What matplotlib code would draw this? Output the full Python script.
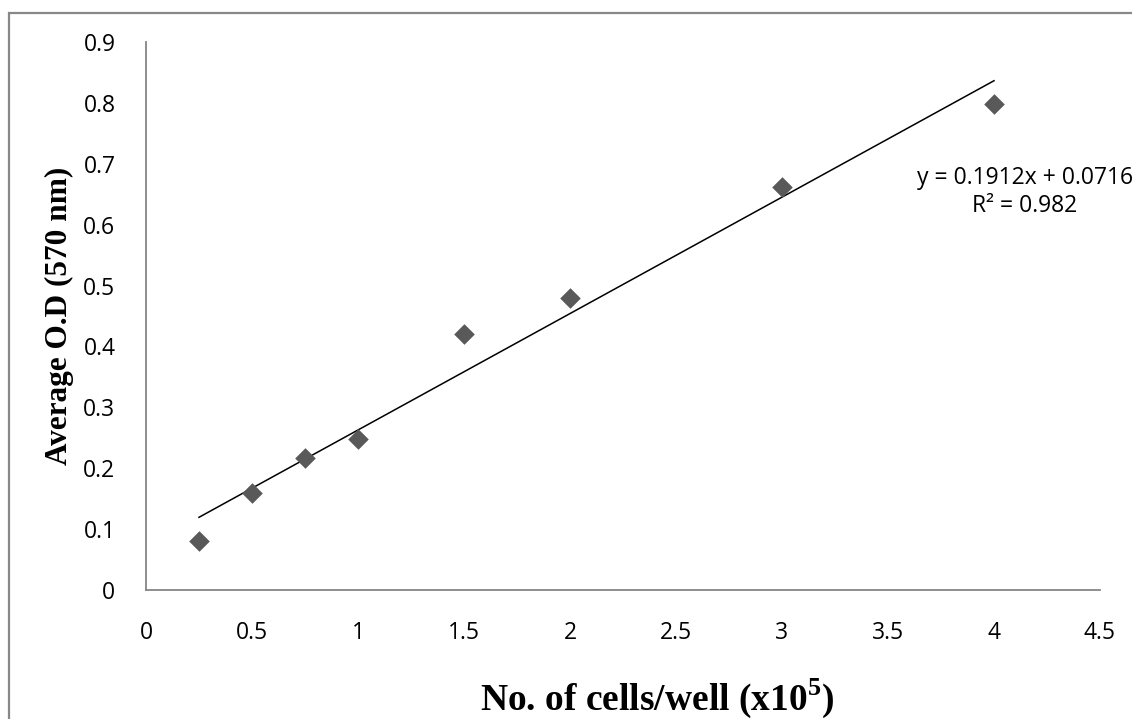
import numpy as np
import matplotlib
matplotlib.use("Agg")
import matplotlib.pyplot as plt
from matplotlib.patches import Rectangle

# Data
celulas = [0.25, 0.5, 0.75, 1, 1.5, 2, 3, 4]
od_media = [0.08, 0.159, 0.217, 0.248, 0.42, 0.479, 0.662, 0.798]
inclinacao = 0.1912
intercepto = 0.0716
r2 = 0.982
xticks = [0, 0.5, 1, 1.5, 2, 2.5, 3, 3.5, 4, 4.5]
yticks = [0, 0.1, 0.2, 0.3, 0.4, 0.5, 0.6, 0.7, 0.8, 0.9]

plt.rcParams["mathtext.fontset"] = "custom"
plt.rcParams["mathtext.bf"] = "Liberation Serif:bold"
plt.rcParams["mathtext.rm"] = "Liberation Serif:bold"

fig = plt.figure(figsize=(11.32, 7.19), dpi=100)
ax = fig.add_axes([146 / 1132, 129 / 719, 954 / 1132, 548 / 719])

# Outer chart border (gray, cut at right/bottom as in the reference)
fig.patches.append(Rectangle((8.5 / 1132, -0.2), 1.3, (719 - 12.5) / 719 + 0.2,
                             transform=fig.transFigure, fill=False,
                             edgecolor="#888888", linewidth=1.6))

ax.scatter(celulas, od_media, marker="D", s=110, color="#595959",
           linewidths=0, zorder=3)

# Linear trendline
x_lin = np.array([min(celulas), max(celulas)])
ax.plot(x_lin, inclinacao * x_lin + intercepto, color="black", lw=1.1, zorder=2)

# equation label (display coords, origin bottom-left)
ax.text(1025, 719 - 192, "y = %.4fx + %.4f\nR² = %.3f" % (inclinacao, intercepto, r2),
        transform=None, ha="center", va="center", fontsize=16.5,
        family="Open Sans", linespacing=1.2, clip_on=False)

ax.set_xlim(0, 4.5)
ax.set_ylim(0, 0.9)
ax.set_xticks(xticks)
ax.set_yticks(yticks)
ax.set_xticklabels([("%g" % t) for t in xticks], family="Open Sans", fontsize=16.5)
ax.set_yticklabels([("%g" % t) for t in yticks], family="Open Sans", fontsize=16.5)
ax.tick_params(length=0, pad=22)

for lado in ["top", "right"]:
    ax.spines[lado].set_visible(False)
for lado in ["left", "bottom"]:
    ax.spines[lado].set_color("#868686")
    ax.spines[lado].set_linewidth(1.3)

ax.set_xlabel(r"No. of cells/well (x10$^{\mathbf{5}}$)", family="Liberation Serif",
              fontweight="bold", fontsize=27)
ax.xaxis.set_label_coords((657 - 146) / 954, -87 / 548)
ax.set_ylabel("Average O.D (570 nm)", family="Liberation Serif",
              fontweight="bold", fontsize=22.5)
ax.yaxis.set_label_coords(-72 / 954, 0.5)

fig.savefig("out.png", dpi=100)
